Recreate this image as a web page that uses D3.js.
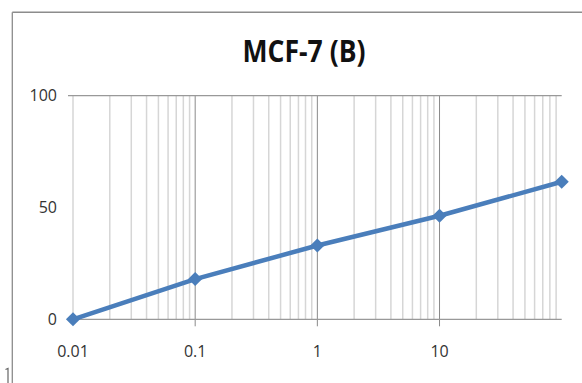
<!DOCTYPE html>
<html>
<head>
<meta charset="utf-8">
<script src="https://cdn.jsdelivr.net/npm/d3@7"></script>
<style>
  html, body { margin: 0; padding: 0; background: #fff; }
  svg { display: block; }
</style>
</head>
<body>
<svg id="chart" width="582" height="383"></svg>
<script>
// ---- data ----
const title = "MCF-7 (B)";
const concentrations = [0.01, 0.1, 1, 10, 100];
const inhibition = [0, 18, 33, 46.3, 61.5];
const xTickValues = [0.01, 0.1, 1, 10];
const xTickLabels = ["0.01", "0.1", "1", "10"];
const yTickValues = [0, 50, 100];
const yTickLabels = ["0", "50", "100"];

// ---- layout ----
const svg = d3.select("#chart");
const plotLeft = 73, plotRight = 561.7, plotTop = 95.7, plotBottom = 319.3;
const x = d3.scaleLog().domain([0.01, 100]).range([plotLeft, plotRight]);
const y = d3.scaleLinear().domain([0, 100]).range([plotBottom, plotTop]);

const labelFont = "'Open Sans', 'Liberation Sans', sans-serif";

// outer frame
svg.append("line").attr("x1", 12.3).attr("x2", 582).attr("y1", 12.3).attr("y2", 12.3)
  .attr("stroke", "#8c8c8c").attr("stroke-width", 1.6);
svg.append("line").attr("x1", 12.3).attr("x2", 12.3).attr("y1", 12.3).attr("y2", 383)
  .attr("stroke", "#8c8c8c").attr("stroke-width", 1.3);
svg.append("path").attr("d", "M5.5,369.5 L8,368.5 L8,383").attr("fill", "none")
  .attr("stroke", "#666").attr("stroke-width", 1.2);

// title
svg.append("text").attr("x", 304).attr("y", 62).attr("text-anchor", "middle")
  .attr("font-family", "'Open Sans', 'Liberation Sans', sans-serif")
  .attr("font-weight", "bold").attr("font-size", 30).attr("fill", "#111")
  .attr("textLength", 123).attr("lengthAdjust", "spacingAndGlyphs")
  .text(title);

// minor vertical gridlines (from log scale ticks)
const allTicks = x.ticks().filter(t => t < 100);
const isDecade = t => Math.abs(Math.log10(t) - Math.round(Math.log10(t))) < 1e-9;
const minor = allTicks.filter(t => !isDecade(t) || t === 0.01);
svg.append("g").selectAll("line").data(minor).join("line")
  .attr("x1", d => x(d)).attr("x2", d => x(d))
  .attr("y1", plotTop).attr("y2", plotBottom)
  .attr("stroke", "#d6d6d6").attr("stroke-width", 1.5);

// major (decade) gridlines with tick extension
const major = xTickValues.filter(t => t !== 0.01);
svg.append("g").selectAll("line").data(major).join("line")
  .attr("x1", d => x(d)).attr("x2", d => x(d))
  .attr("y1", plotTop).attr("y2", plotBottom + 7)
  .attr("stroke", "#8a8a8a").attr("stroke-width", 1);

// horizontal lines: top (100) with tick, bottom axis
svg.append("line").attr("x1", plotLeft - 5).attr("x2", plotRight).attr("y1", y(100)).attr("y2", y(100))
  .attr("stroke", "#999").attr("stroke-width", 1.2);
svg.append("line").attr("x1", plotLeft).attr("x2", plotRight).attr("y1", y(0)).attr("y2", y(0))
  .attr("stroke", "#999").attr("stroke-width", 1.2);

// y labels
svg.append("g").selectAll("text").data(yTickValues).join("text")
  .attr("x", 57).attr("y", d => y(d)).attr("dy", "0.36em")
  .attr("text-anchor", "end").attr("font-family", labelFont).attr("font-size", 16)
  .attr("fill", "#333").text((d, i) => yTickLabels[i]);

// x labels
svg.append("g").selectAll("text").data(xTickValues).join("text")
  .attr("x", d => x(d)).attr("y", 357)
  .attr("text-anchor", "middle").attr("font-family", labelFont).attr("font-size", 16)
  .attr("fill", "#333").text((d, i) => xTickLabels[i]);

// series line
const pts = concentrations.map((c, i) => [c, inhibition[i]]);
svg.append("path").datum(pts)
  .attr("d", d3.line().x(d => x(d[0])).y(d => y(d[1])))
  .attr("fill", "none").attr("stroke", "#4a7ebb").attr("stroke-width", 4.5)
  .attr("stroke-linejoin", "round");

// diamond markers
const diamond = d3.symbol().type(d3.symbolSquare).size(100);
svg.append("g").selectAll("path").data(pts).join("path")
  .attr("d", diamond)
  .attr("transform", d => `translate(${x(d[0])},${y(d[1])}) rotate(45)`)
  .attr("fill", "#4a7ebb");
</script>
</body>
</html>
